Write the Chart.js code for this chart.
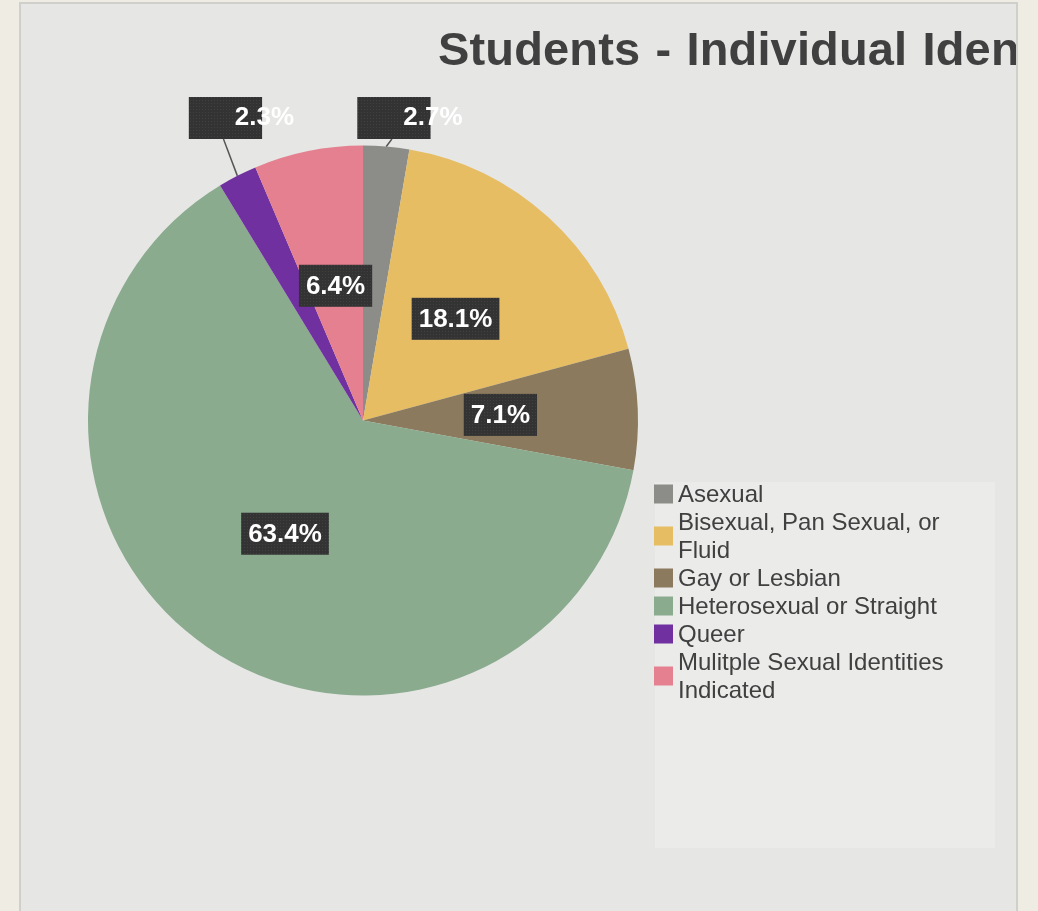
<!DOCTYPE html>
<html>
<head>
<meta charset="utf-8">
<script src="https://cdn.jsdelivr.net/npm/chart.js@4.4.1/dist/chart.umd.min.js"></script>
<style>
  html, body { margin: 0; padding: 0; background: #efece4; }
  canvas { display: block; }
</style>
</head>
<body>
<canvas id="identity_pie" width="1038" height="911"></canvas>
<script>
var chart_title = "Students - Individual Identity";
var identity_labels = [
    "Asexual",
    "Bisexual, Pan Sexual, or Fluid",
    "Gay or Lesbian",
    "Heterosexual or Straight",
    "Queer",
    "Mulitple Sexual Identities Indicated"
];
var identity_share = [2.7, 18.1, 7.1, 63.4, 2.3, 6.4];
var slice_colors = ["#8c8c88", "#e6bd63", "#8b7a5e", "#8aab8e", "#7030a0", "#e4808f"];

var panel = { left: 20, top: 3, right: 1017, bottom: 911 };

// dotted dark fill used behind the value labels
function labelPattern(ctx) {
    var c = document.createElement("canvas");
    c.width = 3;
    c.height = 3;
    var p = c.getContext("2d");
    p.fillStyle = "#333333";
    p.fillRect(0, 0, 3, 3);
    p.fillStyle = "#414141";
    p.fillRect(1, 1, 1, 1);
    return ctx.createPattern(c, "repeat");
}

var panelPlugin = {
    id: "panel",
    beforeDraw: function(chart) {
        var ctx = chart.ctx;
        ctx.save();
        ctx.fillStyle = "#efece4";
        ctx.fillRect(0, 0, chart.width, chart.height);
        ctx.fillStyle = "#e6e6e4";
        ctx.fillRect(panel.left, panel.top, panel.right - panel.left, panel.bottom - panel.top);
        ctx.strokeStyle = "#cfcfcb";
        ctx.lineWidth = 2;
        ctx.strokeRect(panel.left, panel.top, panel.right - panel.left, panel.bottom - panel.top + 4);
        ctx.restore();
    }
};

var valueLabels = {
    id: "valueLabels",
    afterDatasetsDraw: function(chart) {
        var ctx = chart.ctx;
        var arcs = chart.getDatasetMeta(0).data;
        var values = chart.data.datasets[0].data;
        var fill = labelPattern(ctx);
        var top = chart.chartArea.top;

        ctx.save();
        ctx.font = "bold 26px 'Liberation Sans', Arial, sans-serif";
        ctx.textBaseline = "middle";

        for (var i = 0; i < arcs.length; i++) {
            var a = arcs[i].getProps(["x", "y", "startAngle", "endAngle", "outerRadius"], true);
            var mid = (a.startAngle + a.endAngle) / 2;
            var text = values[i].toFixed(1) + "%";
            var tw = ctx.measureText(text).width;
            var bw = tw + 14, bh = 42;

            if (values[i] < 3) {
                // small slices get a box above the pie with a leader line
                var ax = a.x + Math.cos(mid) * a.outerRadius;
                var ay = a.y + Math.sin(mid) * a.outerRadius;
                var by = top - 6;
                var rx = ax + (by - ay) * Math.cos(mid) / Math.sin(mid);

                ctx.strokeStyle = "#555555";
                ctx.lineWidth = 1.5;
                ctx.beginPath();
                ctx.moveTo(ax, ay);
                ctx.lineTo(rx + 5, by);
                ctx.stroke();

                var left = rx + 7 - bw / 2;
                ctx.fillStyle = fill;
                ctx.fillRect(left, by - bh, bw, bh);
                ctx.fillStyle = "#ffffff";
                ctx.textAlign = "left";
                ctx.fillText(text, left + 46, by - bh / 2);
            } else {
                var cx = a.x + Math.cos(mid) * a.outerRadius * 0.5;
                var cy = a.y + Math.sin(mid) * a.outerRadius * 0.5;
                ctx.fillStyle = fill;
                ctx.fillRect(cx - bw / 2, cy - bh / 2, bw, bh);
                ctx.fillStyle = "#ffffff";
                ctx.textAlign = "center";
                ctx.fillText(text, cx, cy + 1);
            }
        }
        ctx.restore();
    }
};

function wrapText(ctx, text, maxWidth) {
    var words = text.split(" ");
    var lines = [];
    var line = "";
    for (var i = 0; i < words.length; i++) {
        var test = line ? line + " " + words[i] : words[i];
        if (line && ctx.measureText(test).width > maxWidth) {
            lines.push(line);
            line = words[i];
        } else {
            line = test;
        }
    }
    lines.push(line);
    return lines;
}

var sideLegend = {
    id: "sideLegend",
    afterDraw: function(chart) {
        var ctx = chart.ctx;
        var labels = chart.data.labels;
        var colors = chart.data.datasets[0].backgroundColor;
        var box = { x: 655, y: 482, w: 340, h: 366 };
        var lineH = 28;

        ctx.save();
        ctx.fillStyle = "#ebebea";
        ctx.fillRect(box.x, box.y, box.w, box.h);

        ctx.font = "24px 'Liberation Sans', Arial, sans-serif";
        ctx.textBaseline = "middle";
        ctx.textAlign = "left";

        var y = box.y + 12;
        for (var i = 0; i < labels.length; i++) {
            var lines = wrapText(ctx, labels[i], 285);
            var blockMid = y + (lines.length - 1) * lineH / 2;
            ctx.fillStyle = colors[i];
            ctx.fillRect(box.x - 1, blockMid - 9.5, 19, 19);
            ctx.fillStyle = "#404040";
            for (var j = 0; j < lines.length; j++) {
                ctx.fillText(lines[j], box.x + 23, y + j * lineH + 1);
            }
            y += lines.length * lineH;
        }
        ctx.restore();
    }
};

var titlePlugin = {
    id: "clippedTitle",
    afterDraw: function(chart) {
        var ctx = chart.ctx;
        ctx.save();
        ctx.beginPath();
        ctx.rect(panel.left, panel.top, panel.right - panel.left - 1, panel.bottom - panel.top);
        ctx.clip();
        ctx.font = "bold 47px 'Liberation Sans', Arial, sans-serif";
        ctx.letterSpacing = "0.15px";
        ctx.wordSpacing = "2px";
        ctx.fillStyle = "#404040";
        ctx.textAlign = "left";
        ctx.textBaseline = "alphabetic";
        ctx.fillText(chart_title, 438, 65);
        ctx.restore();
    }
};

var ctx = document.getElementById("identity_pie");

var chart = new Chart(ctx, {
    type: "pie",
    data: {
        labels: identity_labels,
        datasets: [
            {
                data: identity_share,
                backgroundColor: slice_colors,
                borderWidth: 0
            }
        ]
    },
    options: {
        responsive: false,
        animation: false,
        layout: {
            padding: { left: 88, right: 400, top: 145, bottom: 215 }
        },
        plugins: {
            legend: { display: false },
            tooltip: { enabled: false },
            title: { display: false }
        }
    },
    plugins: [panelPlugin, valueLabels, sideLegend, titlePlugin]
});
</script>
</body>
</html>
